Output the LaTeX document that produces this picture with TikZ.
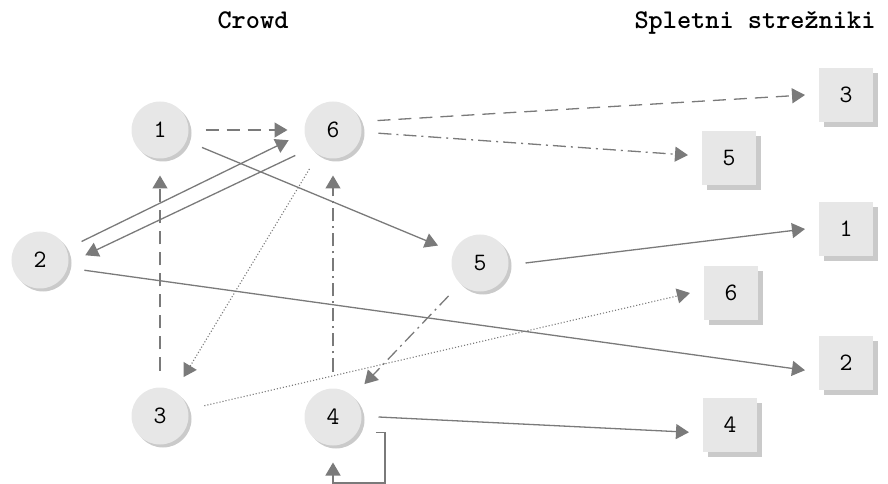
\documentclass[tikz,border=0pt]{standalone}
\usepackage{tikz}
\usetikzlibrary{arrows.meta,shadows}

\definecolor{edgegray}{HTML}{7A7A7A}
\definecolor{boxgray}{HTML}{E7E7E7}
\definecolor{shadegray}{HTML}{CACACA}

\tikzset{
  peer/.style={circle, fill=boxgray, minimum size=57bp, inner sep=0pt, outer sep=17bp,
    drop shadow={shadow xshift=3bp, shadow yshift=-3bp, fill=shadegray, opacity=1},
    font=\fontsize{25bp}{25bp}\selectfont\ttfamily},
  server/.style={rectangle, fill=boxgray, minimum size=54bp, inner sep=0pt, outer sep=14bp,
    drop shadow={shadow xshift=5bp, shadow yshift=-5bp, fill=shadegray, opacity=1},
    font=\fontsize{25bp}{25bp}\selectfont\ttfamily},
  heading/.style={anchor=base, font=\fontsize{27bp}{27bp}\selectfont\ttfamily\bfseries},
  link/.style={draw=edgegray, line width=1.3bp, -{Triangle[length=13bp,width=15bp]}},
  longdash/.style={dash pattern=on 13bp off 8bp},
  dashdot/.style={dash pattern=on 13bp off 5bp on 2bp off 5bp},
  dots/.style={line width=1.1bp, dash pattern=on 1.1bp off 2bp}
}

\begin{document}
\begin{tikzpicture}[x=1bp,y=-1bp]
\useasboundingbox (0,0) rectangle (888,484);

\node[heading] (crowd) at (253,29) {Crowd};
\node[heading] (web) at (755,29) {Spletni strežniki};

% members of the crowd
\node[peer] (c1) at (160,130) {1};
\node[peer] (c6) at (333,130) {6};
\node[peer] (c2) at (40,260) {2};
\node[peer] (c5) at (480,263) {5};
\node[peer] (c3) at (160,416) {3};
\node[peer] (c4) at (333,417) {4};

% web servers
\node[server] (s3) at (846,95) {3};
\node[server] (s5) at (729,158) {5};
\node[server] (s1) at (846,229) {1};
\node[server] (s6) at (731,293) {6};
\node[server] (s2) at (846,363) {2};
\node[server] (s4) at (730,425) {4};

\draw[link,longdash] (c1) -- (c6);
\draw[link,longdash] (c6.12) -- (s3.west);
\draw[link,dashdot] (c6) -- (s5);
\draw[link] (c1) -- (c5);
\draw[link] (c2.24) -- (c6.193);
\draw[link] (c6.214) -- (c2.6);
\draw[link,dots] (c6) -- (c3);
\draw[link,longdash] (c3) -- (c1);
\draw[link,dashdot] (c4) -- (c6);
\draw[link,dashdot] (c5) -- (c4);
\draw[link] (c2.-13) -- (s2.190);
\draw[link,dots] (c3) -- (s6.west);
\draw[link] (c5.east) -- (s1.west);
\draw[link] (c4.east) -- (s4.190);

% request that 4 sends back to itself
\coordinate (loop) at (385,483);
\draw[link] (c4.-20) -| (loop) -| (c4.south);
\end{tikzpicture}
\end{document}
